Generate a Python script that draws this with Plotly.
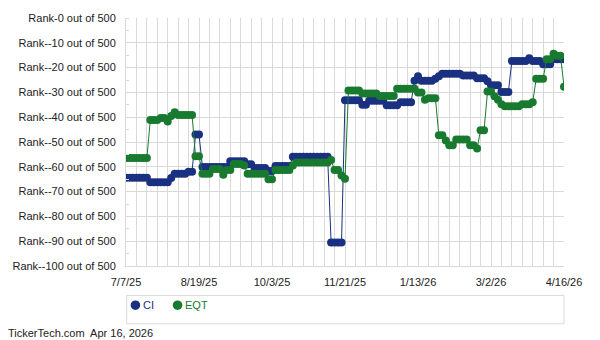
import plotly.graph_objects as go

date_labels = ["7/7/25", "8/19/25", "10/3/25", "11/21/25", "1/13/26", "3/2/26", "4/16/26"]
series_names = ["CI", "EQT"]

ci_rank = [
    -64.4, -64.4, -64.4, -64.4, -64.4, -64.4, -64.4,
    -66.2, -66.2, -66.2, -66.2, -66.2, -66.2,
    -64.5,
    -62.8, -62.8, -62.8, -62.8,
    -62.0, -62.0,
    -47.0, -47.0,
    -60.1, -60.1, -60.1, -60.1, -60.1, -60.1, -60.1, -60.1,
    -57.8, -57.8, -57.8, -57.8, -57.8,
    -59.0, -59.0,
    -60.5, -60.5, -60.5, -60.5,
    -61.7, -61.7,
    -59.7, -59.7, -59.7, -59.7, -59.7,
    -55.9, -55.9, -55.9, -55.9, -55.9, -55.9, -55.9, -55.9, -55.9, -55.9, -55.9,
    -90.5, -90.5, -90.5, -90.5,
    -33.2, -33.2, -33.2, -33.2, -33.2,
    -35.0, -35.0,
    -33.4, -33.4, -33.4, -33.4, -33.4,
    -35.2, -35.2, -35.2, -35.2,
    -34.0, -34.0, -34.0, -34.0,
    -25.3, -23.5,
    -25.3, -25.3, -25.3, -25.3,
    -24.5, -23.5,
    -22.5, -22.5, -22.5, -22.5, -22.5, -22.5,
    -23.2, -23.2, -23.2, -23.2,
    -24.3, -24.3, -24.3,
    -25.5,
    -27.1, -27.1, -27.1,
    -29.8, -29.8, -29.8,
    -17.3, -17.3, -17.3, -17.3, -17.3,
    -16.2,
    -17.3, -17.3, -17.3,
    -18.6, -18.6, -18.6,
    -16.6, -16.6, -16.6, -16.6,
]

eqt_rank = [
    -56.5, -56.5, -56.5, -56.5, -56.5, -56.5, -56.5,
    -41.1, -41.1, -41.1,
    -40.3, -40.3,
    -41.7,
    -39.5,
    -38.0,
    -39.1, -39.1, -39.1, -39.1, -39.1,
    -55.7, -55.7,
    -62.8, -62.8, -62.8,
    -60.9, -60.9, -60.9,
    -63.2,
    -61.3, -61.3,
    -58.9, -58.9, -58.9,
    -59.5,
    -62.8, -62.8, -62.8, -62.8, -62.8, -62.8,
    -65.0, -65.0,
    -61.3, -61.3, -61.3, -61.3, -61.3,
    -59.5,
    -58.3, -58.3, -58.3, -58.3, -58.3, -58.3, -58.3, -58.3, -58.3, -58.3,
    -57.3,
    -61.3, -61.3,
    -63.5,
    -64.8,
    -29.2, -29.2, -29.2, -29.2,
    -30.4, -30.4, -30.4, -30.4, -30.4,
    -31.5, -31.5, -31.5, -31.5, -31.5,
    -28.5, -28.5, -28.5, -28.5, -28.5, -28.5,
    -30.0, -30.0,
    -33.0,
    -32.4, -32.4, -32.4,
    -47.3, -47.3,
    -49.4,
    -51.3, -51.3,
    -49.0, -49.0, -49.0, -49.0,
    -51.3, -51.3,
    -52.6,
    -45.3, -45.3,
    -29.6, -29.6,
    -31.6,
    -33.0,
    -34.8,
    -35.6, -35.6, -35.6, -35.6, -35.6,
    -34.8, -34.8, -34.8,
    -34.0,
    -24.5, -24.5, -24.5,
    -16.6, -16.6,
    -14.4,
    -15.2, -15.2,
    -27.7,
]

CI_COLOR = "#1a3080"
EQT_COLOR = "#187a2f"
colors = [CI_COLOR, EQT_COLOR]
FONT = "Arial, 'Liberation Sans', sans-serif"
GRID = "#d9d9d9"

n = len(ci_rank)
x_idx = list(range(n))
label_step = (n - 1) // (len(date_labels) - 1)
grid_step = label_step // 7

fig = go.Figure()
for name, vals, col in zip(series_names, [ci_rank, eqt_rank], colors):
    fig.add_trace(go.Scatter(
        x=x_idx, y=vals, mode="lines+markers", name=name, showlegend=False,
        line=dict(color=col, width=1),
        marker=dict(color=col, size=8, line=dict(width=0)),
        hoverinfo="skip",
    ))

xtickvals = list(range(0, n, grid_step))
xticktext = [date_labels[v // label_step] if v % label_step == 0 else "" for v in xtickvals]
yvals = list(range(0, -101, -10))
yticktext = [f"Rank-{v} out of 500" for v in yvals]

# custom legend (box, dots, coloured labels) in paper coordinates
shapes = [dict(type="rect", xref="paper", yref="paper", x0=0.0015, x1=1.0,
               y0=-0.1186, y1=-0.2332, line=dict(color=GRID, width=1), layer="below")]
annotations = []
legend_dot_x = [0.0215, 0.1177]
legend_txt_x = [0.0399, 0.1351]
legend_y = -0.158
for name, col, dx, tx in zip(series_names, colors, legend_dot_x, legend_txt_x):
    shapes.append(dict(type="circle", xref="paper", yref="paper", xsizemode="pixel",
                       ysizemode="pixel", xanchor=dx, yanchor=legend_y,
                       x0=-4.8, x1=4.8, y0=-4.8, y1=4.8,
                       fillcolor=col, line=dict(color=col, width=0)))
    annotations.append(dict(text=name, xref="paper", yref="paper", x=tx, y=legend_y,
                            xanchor="left", yanchor="middle", showarrow=False,
                            borderpad=0, xshift=-1,
                            font=dict(size=11, color=col)))
annotations.append(dict(text="TickerTech.com  Apr 16, 2026", xref="paper", yref="paper",
                        x=-0.259, y=-0.2688, xanchor="left", yanchor="middle",
                        showarrow=False, borderpad=0, xshift=-6,
                        font=dict(size=11, color="#222222")))

fig.update_layout(
    width=600, height=340,
    margin=dict(l=120, r=36, t=13, b=74),
    paper_bgcolor="white", plot_bgcolor="white",
    font=dict(family=FONT, size=11, color="#222222"),
    showlegend=False,
    xaxis=dict(
        range=[0, n - 1], tickmode="array", tickvals=xtickvals, ticktext=xticktext,
        showgrid=True, gridcolor=GRID, gridwidth=1, zeroline=False,
        showline=True, linecolor=GRID, ticks="", ticklabelstandoff=6,
        tickfont=dict(size=11, color="#222222"),
    ),
    yaxis=dict(
        range=[-100, 0], tickmode="array", tickvals=yvals, ticktext=yticktext,
        showgrid=True, gridcolor=GRID, gridwidth=1, zeroline=False,
        showline=True, linecolor=GRID, ticks="", ticklabelstandoff=7,
        tickfont=dict(size=11, color="#222222"),
        minor=dict(ticks="inside", ticklen=3, tickcolor=GRID, dtick=5, tick0=0, showgrid=False),
    ),
    shapes=shapes,
    annotations=annotations,
)

fig.write_html("out.html")
